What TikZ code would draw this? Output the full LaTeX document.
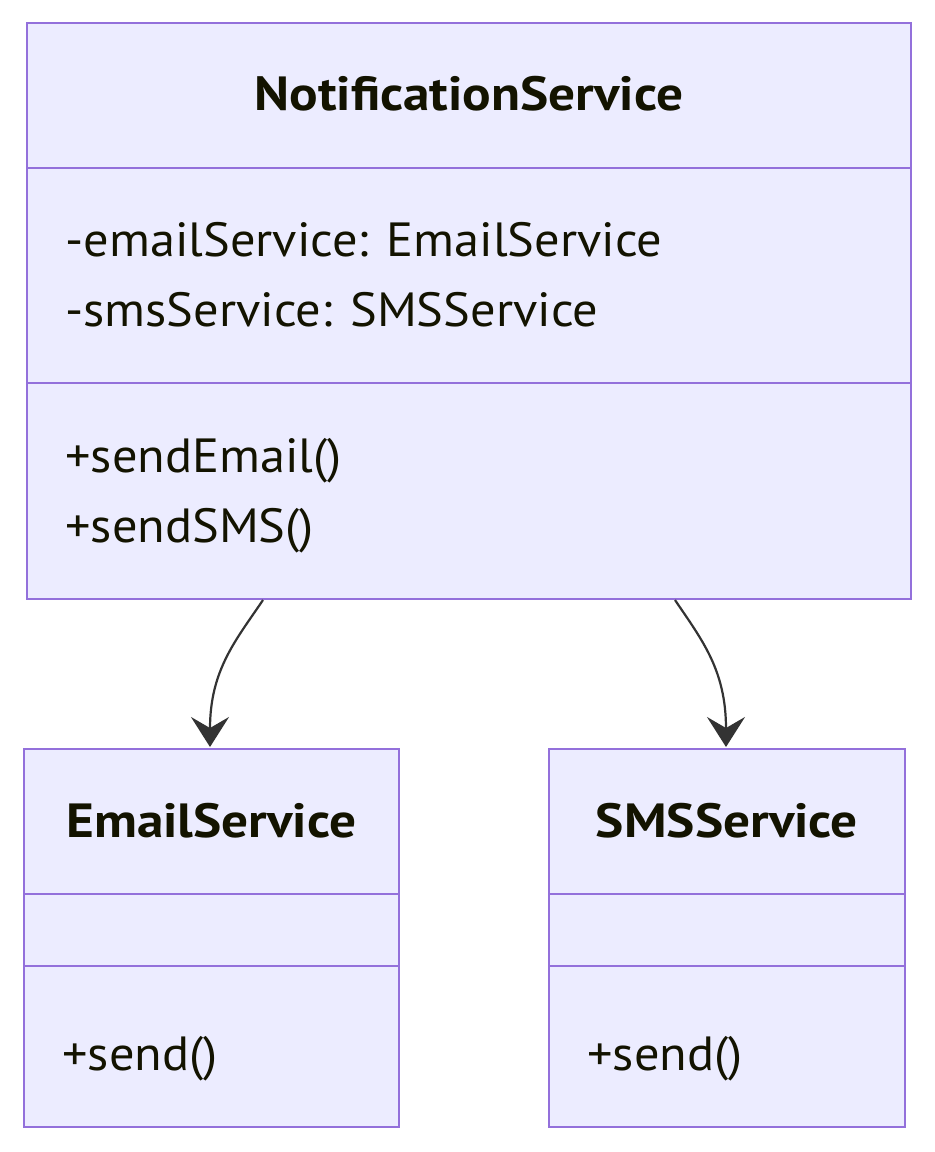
\documentclass[tikz,border=0pt]{standalone}
\usepackage{fontspec}
\setmainfont[FakeStretch=1.05]{PT Sans}
\newfontfamily\titlefont[FakeStretch=1.11]{PT Sans Bold}
\usetikzlibrary{fit,arrows.meta}
\definecolor{umlfill}{HTML}{ECECFF}
\definecolor{umlborder}{HTML}{9370DB}
\definecolor{umltext}{HTML}{131300}
\definecolor{umlarrow}{HTML}{333333}
\tikzset{
  classbox/.style={draw=umlborder, fill=umlfill, line width=1.4pt, inner sep=0pt},
  divider/.style={draw=umlborder, line width=1.4pt},
  title/.style={font=\titlefont\fontsize{24}{28}\selectfont, text=umltext, anchor=base, inner sep=0pt},
  member/.style={font=\fontsize{24}{28}\selectfont, text=umltext, anchor=base west, inner sep=0pt},
  assoc/.style={draw=umlarrow, line width=1.1pt, -{Stealth[length=15pt, width=19pt, inset=5.5pt]}}
}
\begin{document}
\begin{tikzpicture}[x=0.5pt,y=-0.5pt]
\useasboundingbox (0,0) rectangle (935,1152);
% NotificationService
\node[classbox, fit={(27,23) (911,599)}] (ns) {};
\draw[divider] (27,168) -- (911,168);
\draw[divider] (27,383) -- (911,383);
\node[title] (nst) at (469,110) {NotificationService};
\node[member] (nsa1) at (65,256) {-emailService: EmailService};
\node[member] (nsa2) at (65,326) {-smsService: SMSService};
\node[member] (nsm1) at (65,472) {+sendEmail()};
\node[member] (nsm2) at (65,542) {+sendSMS()};
% EmailService
\node[classbox, fit={(24,749) (399,1127)}] (es) {};
\draw[divider] (24,894) -- (399,894);
\draw[divider] (24,966) -- (399,966);
\node[title] (est) at (211.5,837) {EmailService};
\node[member] (esm1) at (62,1070) {+send()};
% SMSService
\node[classbox, fit={(549,749) (905,1127)}] (ss) {};
\draw[divider] (549,894) -- (905,894);
\draw[divider] (549,966) -- (905,966);
\node[title] (sst) at (727,837) {SMSService};
\node[member] (ssm1) at (587,1070) {+send()};
% connectors
\coordinate (a1s) at (263,600);
\coordinate (a1e) at (210,747);
\coordinate (a2s) at (675,600);
\coordinate (a2e) at (726,747);
\draw[assoc] (a1s) .. controls (236,640) and (210,670) .. (a1e);
\draw[assoc] (a2s) .. controls (702,640) and (726,670) .. (a2e);
\end{tikzpicture}
\end{document}
